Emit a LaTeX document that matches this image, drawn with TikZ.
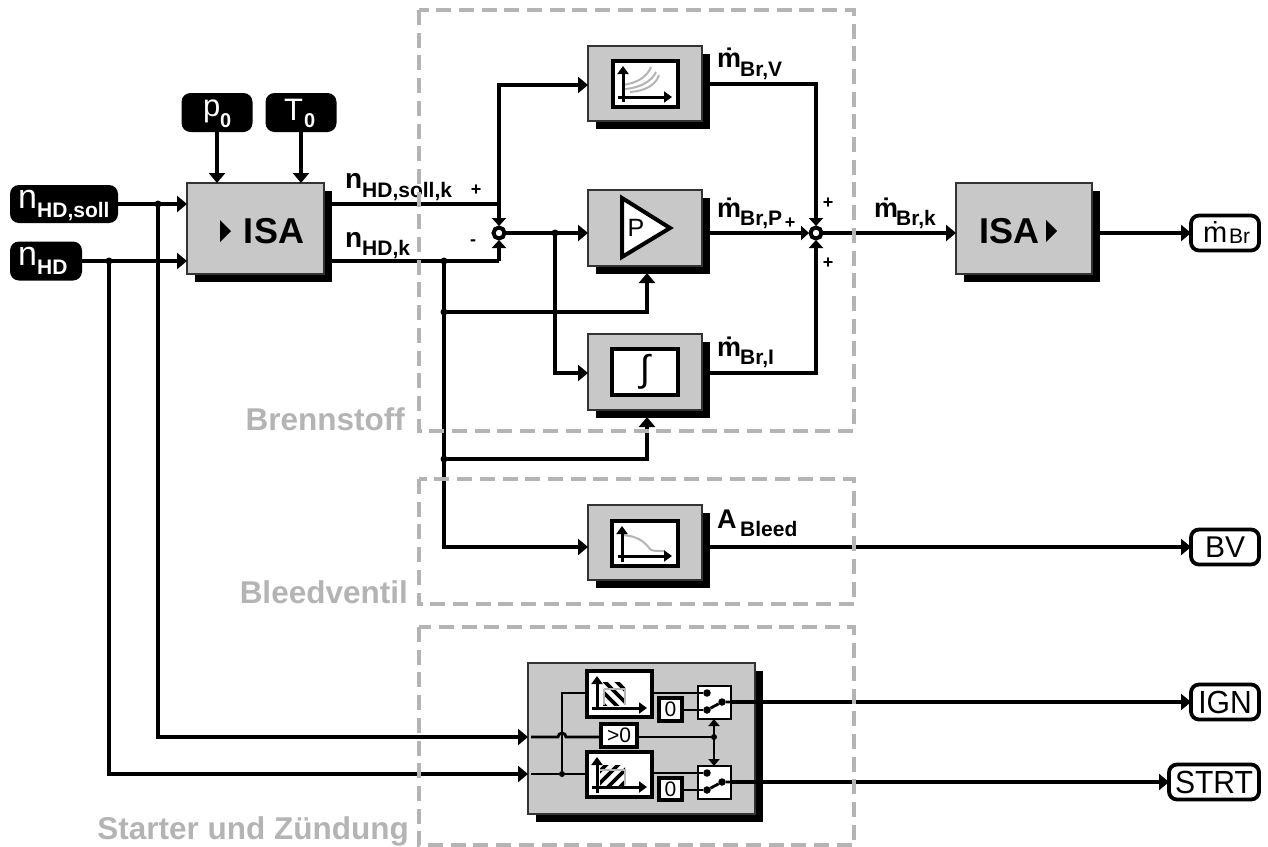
\documentclass[tikz,border=0pt]{standalone}
\usepackage{fontspec}
\setmainfont{Liberation Sans}
\usetikzlibrary{arrows.meta,calc}
\definecolor{blockgrey}{HTML}{C8C8C8}
\definecolor{dashgrey}{HTML}{B4B4B4}
\newcommand\fs[1]{\fontsize{#1}{#1}\selectfont}
\newcommand\blk[5]{%
  \pgfmathsetmacro\bw{#4-#2}\pgfmathsetmacro\bh{#5-#3}%
  \pgfmathsetmacro\bx{(#2+#4)/2}\pgfmathsetmacro\by{(#3+#5)/2}%
  \node[shadowbox,minimum width=\bw pt,minimum height=\bh pt] (#1s) at (\bx+8,\by+8) {};
  \node[greybox,minimum width=\bw pt,minimum height=\bh pt] (#1) at (\bx,\by) {};
}
\newcommand\rbox[6][inner]{%
  \pgfmathsetmacro\bw{#5-#3}\pgfmathsetmacro\bh{#6-#4}%
  \pgfmathsetmacro\bx{(#3+#5)/2}\pgfmathsetmacro\by{(#4+#6)/2}%
  \node[#1,minimum width=\bw pt,minimum height=\bh pt] (#2) at (\bx,\by) {};
}
\tikzset{
  x=1pt,y=-1pt,
  conn/.style={line width=4.4pt,-{Triangle[length=10pt,width=16pt]}},
  sconn/.style={line width=4.4pt,-{Triangle[length=8pt,width=14pt]}},
  plain/.style={line width=4.4pt},
  tconn/.style={line width=2.8pt},
  tarrow/.style={line width=3pt,-{Triangle[length=8pt,width=11pt]}},
  shadowbox/.style={rectangle,fill=black,draw=none,inner sep=0,outer sep=0},
  greybox/.style={rectangle,fill=blockgrey,draw=black!80,line width=1.5pt,inner sep=0,outer sep=0},
  inner/.style={rectangle,fill=white,draw=black,line width=4.5pt,inner sep=0,outer sep=0},
  tbox/.style={rectangle,fill=white,draw=black,line width=3.4pt,inner sep=0,outer sep=0},
  sw/.style={rectangle,fill=white,draw=black,line width=2.8pt,inner sep=0,outer sep=0},
  inlabel/.style={rectangle,rounded corners=9pt,fill=black,text=white,inner sep=0,outer sep=0},
  outlabel/.style={rectangle,rounded corners=8pt,fill=white,draw=black,line width=3.8pt,inner sep=0,outer sep=0},
  sumj/.style={circle,fill=white,draw=black,line width=4pt,minimum size=11pt,inner sep=0,outer sep=1.5pt},
  jdot/.style={circle,fill=black,minimum size=7pt,inner sep=0,outer sep=0},
  tdot/.style={circle,fill=black,minimum size=6pt,inner sep=0,outer sep=0},
  pole/.style={circle,fill=black,minimum size=7.5pt,inner sep=0,outer sep=0},
  region/.style={draw=dashgrey,line width=3.5pt,dash pattern=on 15pt off 7.7pt},
  regionlabel/.style={text=dashgrey,font=\fs{31.5}\bfseries,anchor=base east,inner sep=0},
  sign/.style={font=\fs{18}\bfseries,inner sep=0},
  txt/.style={anchor=base west,inner sep=0},
  curve/.style={draw=dashgrey,line width=2pt},
}
\begin{document}
\begin{tikzpicture}
\useasboundingbox (0,0) rectangle (1268,846);

% ---------- blocks
\blk{isa}{187}{183}{324}{274}
\blk{isb}{956}{183}{1092}{274}
\blk{va}{588}{46}{702}{121}
\blk{pr}{588}{190}{702}{266}
\blk{ig}{588}{334}{702}{410}
\blk{bl}{588}{505}{702}{580}
\blk{st}{528}{663}{755}{814}

% ---------- inputs
\node[inlabel,minimum width=108pt,minimum height=38pt] (soll) at (64,204) {};
\node[inlabel,minimum width=72pt,minimum height=39pt] (hd) at (46,261) {};
\node[inlabel,minimum width=71pt,minimum height=39pt] (p0) at (217,112.5) {};
\node[inlabel,minimum width=71pt,minimum height=39pt] (t0) at (301,112.5) {};
\node[txt,text=white] (soll-t) at (18,208) {\fs{34}n};
\node[txt,text=white] (soll-s) at (37,217) {\fs{21}\bfseries HD,soll};
\node[txt,text=white] (hd-t) at (18,265) {\fs{34}n};
\node[txt,text=white] (hd-s) at (37,274) {\fs{21}\bfseries HD};
\node[txt,text=white] (p0-t) at (203,116) {\fs{31}p};
\node[txt,text=white] (p0-s) at (220,127) {\fs{20}\bfseries 0};
\node[txt,text=white] (t0-t) at (284,120) {\fs{31}T};
\node[txt,text=white] (t0-s) at (304,127) {\fs{20}\bfseries 0};

% ---------- outputs
\node[outlabel,minimum width=68pt,minimum height=35pt] (omb) at (1225,233) {};
\node[outlabel,minimum width=68pt,minimum height=35pt] (obv) at (1225,547) {};
\node[outlabel,minimum width=68pt,minimum height=35pt] (oig) at (1225,702) {};
\node[outlabel,minimum width=90pt,minimum height=35pt] (ost) at (1214,782) {};
\node[txt] (omb-t) at (1203,242) {\fs{29}ṁ};
\node[txt] (omb-s) at (1229,243) {\fs{21}Br};
\node[inner sep=0] (obv-t) at (1225,547) {\fs{30}BV};
\node[inner sep=0] (oig-t) at (1225,702) {\scalebox{.94}[1]{\fs{32}IGN}};
\node[inner sep=0] (ost-t) at (1214,782) {\scalebox{.94}[1]{\fs{32}STRT}};

% ---------- sum points and routing points
\node[sumj] (suma) at (499,233) {};
\node[sumj] (sumb) at (816,233) {};
\coordinate (jsoll) at (158,204);
\coordinate (jhd) at (109,261);
\coordinate (ja) at (499,204);
\coordinate (jb) at (499,261);
\coordinate (jk) at (444,261);
\coordinate (jc) at (555,233);
\coordinate (jp) at (444,312);
\coordinate (ji) at (444,459);
\coordinate (vt) at (499,85);
\coordinate (oa) at (816,84);
\coordinate (ob) at (816,373);
\coordinate (ystv) at (0,737);
\coordinate (ystw) at (0,774);
\coordinate (prin) at (647,273);
\coordinate (igin) at (647,417);

% ---------- connectors: inputs
\draw[conn] (soll.east) -- (isa.west |- soll);
\draw[conn] (hd.east) -- (isa.west |- hd);
\draw[conn] (p0.south) -- (isa.north -| p0);
\draw[conn] (t0.south) -- (isa.north -| t0);
\draw[conn] (jsoll) |- (st.west |- ystv);
\draw[conn] (jhd) |- (st.west |- ystw);

% ---------- connectors: comparison
\draw[plain] (isas.east |- ja) -- (ja);
\draw[plain] (isas.east |- jb) -- (jb);
\draw[sconn] (ja) -- (suma.north);
\draw[sconn] (jb) -- (suma.south);
\draw[conn] (ja) |- (va.west |- vt);
\draw[conn] (suma.east) -- (pr.west |- suma);
\draw[conn] (jc) |- (ig.west |- ob);
\draw[conn] (jk) |- (bl.west |- obv);
\draw[conn] (jp) -| (prin);
\draw[conn] (ji) -| (igin);

% ---------- connectors: outputs
\draw[sconn] (vas.east |- oa) -- (oa) -- (sumb.north);
\draw[sconn] (igs.east |- ob) -- (ob) -- (sumb.south);
\draw[sconn] (prs.east |- sumb) -- (sumb.west);
\draw[conn] (sumb.east) -- (isb.west |- sumb);
\draw[conn] (isbs.east |- omb) -- (omb.west);
\draw[conn] (bls.east |- obv) -- (obv.west);
\draw[conn] (sts.east |- oig) -- (oig.west);
\draw[conn] (sts.east |- ost) -- (ost.west);

% ---------- junction dots
\foreach \j in {jsoll,jhd,jk,jc,jp,ji}{\node[jdot] at (\j) {};}

% ---------- ISA blocks
\draw[fill=black,draw=none] (220,220) -- (231,231) -- (220,242) -- cycle;
\node[inner sep=0] (isa-t) at (274,231) {\fs{36}\bfseries ISA};
\node[inner sep=0] (isb-t) at (1009,231) {\fs{36}\bfseries ISA};
\draw[fill=black,draw=none] (1046,220) -- (1057,231) -- (1046,242) -- cycle;

% ---------- V block
\rbox{vi}{613}{61}{678}{107}
\draw[curve] (623,85) .. controls (637,83) and (647,77) .. (651,67);
\draw[curve] (625,89) .. controls (640,88) and (652,81) .. (656,72);
\draw[curve] (630,92) .. controls (645,91) and (656,85) .. (659,75);
\draw[tarrow] (623,102) -- (623,66);
\draw[tarrow] (618,97) -- (672,97);

% ---------- P block
\draw[fill=white,draw=black,line width=4pt,miter limit=10] (622,198) -- (670,228) -- (622,257) -- cycle;
\node[inner sep=0] (pr-t) at (636,228) {\fs{25}P};

% ---------- I block
\rbox{ii}{612}{349}{678}{395}
\node[inner sep=0] (ii-t) at (645,372) {\fs{37}∫};

% ---------- Bleed block
\rbox{bi}{612}{521}{678}{566}
\draw[curve] (622,535) .. controls (637,536) and (644,541) .. (650,549) .. controls (652,551) and (655,551) .. (665,551);
\draw[tarrow] (622,562) -- (622,526);
\draw[tarrow] (618,556) -- (672,556);

% ---------- Start block internals
\rbox{sa}{587}{671}{652}{717}
\rbox{sb}{587}{752}{652}{797}
\begin{scope}
  \clip (603,682) rectangle (625,705);
  \fill[white] (603,682) rectangle (625,705);
  \foreach \d in {-24,-12,0,12,24}{\draw[black,line width=3.6pt] ($(603,682)+(\d-4,-6)$) -- ($(603,682)+(\d+32,30)$);}
\end{scope}
\draw[dashgrey,line width=1.6pt] (604,689) -- (604,705) (604,689) -- (625,689) -- (625,705);
\begin{scope}
  \clip (600,765) rectangle (625,785);
  \foreach \d in {-16,-4,8,20,32}{\draw[black,line width=3.6pt] ($(600,785)+(\d-4,6)$) -- ($(600,785)+(\d+30,-28)$);}
\end{scope}
\draw[dashgrey,line width=1.6pt] (600,770) -- (625,770) -- (625,785);
\draw[tarrow] (597,708) -- (597,676);
\draw[tarrow] (592,708) -- (647,708);
\draw[tarrow] (597,793) -- (597,757);
\draw[tarrow] (592,787) -- (647,787);

\rbox[tbox]{za}{659}{698}{682}{721}
\rbox[tbox]{zb}{659}{778}{682}{800}
\rbox[tbox]{gt}{601}{724}{637}{747}
\rbox[sw]{swa}{698}{686}{731}{719}
\rbox[sw]{swb}{698}{766}{731}{799}
\node[inner sep=0] (za-t) at (670.5,709.5) {\fs{21}0};
\node[inner sep=0] (zb-t) at (670.5,789) {\fs{21}0};
\node[inner sep=0] (gt-t) at (619,735.5) {\fs{21}>0};

\coordinate (is) at (531,737);
\coordinate (iw) at (531,774);
\node[tdot] (dw) at (562,774) {};
\node[tdot] (dg) at (714,737) {};
\node[pole] (a1) at (707,693) {};
\node[pole] (a2) at (707,710) {};
\node[pole] (a3) at (722,702) {};
\node[pole] (b1) at (707,773) {};
\node[pole] (b2) at (707,790) {};
\node[pole] (b3) at (722,782) {};
\draw[tconn] (iw) -- (dw) -- (sb.west |- dw);
\draw[tconn] (is) -- (558,737) arc[start angle=180,end angle=0,radius=4pt] -- (gt.west |- dg);
\draw[tconn] (dw) -- (562,693) -- (sa.west |- a1);
\draw[tconn] (gt.east |- dg) -- (dg);
\draw[tconn] (sa.east |- a1) -- (a1);
\draw[tconn] (za.east |- a2) -- (a2);
\draw[tconn] (a2) -- (a3) -- (swa.east |- a3);
\draw[tconn] (sb.east |- b1) -- (b1);
\draw[tconn] (zb.east |- b2) -- (b2);
\draw[tconn] (b2) -- (b3) -- (swb.east |- b3);
\draw[line width=2.8pt,{Triangle[length=7pt,width=11pt]}-{Triangle[length=7pt,width=11pt]}] (swa.south -| dg) -- (swb.north -| dg);
\draw[plain] (swa.east |- a3) -- (sts.east |- a3);
\draw[plain] (swb.east |- b3) -- (sts.east |- b3);

% ---------- signal labels
\node[txt] (l1) at (345,188) {\fs{28}\bfseries n};
\node[txt] (l1s) at (362,197) {\fs{21}\bfseries HD,soll,k};
\node[txt] (l2) at (345,247) {\fs{28}\bfseries n};
\node[txt] (l2s) at (362,255) {\fs{21}\bfseries HD,k};
\node[sign] (s1) at (476,190) {+};
\node[sign] (s2) at (473,243) {-};
\node[sign] (s3) at (790,223) {+};
\node[sign] (s4) at (828,203) {+};
\node[sign] (s5) at (828,263) {+};
\node[txt] (m1) at (717,67) {\fs{27}\bfseries ṁ};
\node[txt] (m1s) at (740,76) {\fs{21}\bfseries Br,V};
\node[txt] (m2) at (717,217) {\fs{27}\bfseries ṁ};
\node[txt] (m2s) at (740,225) {\fs{21}\bfseries Br,P};
\node[txt] (m3) at (717,356) {\fs{27}\bfseries ṁ};
\node[txt] (m3s) at (740,364) {\fs{21}\bfseries Br,I};
\node[txt] (m4) at (874,217) {\fs{27}\bfseries ṁ};
\node[txt] (m4s) at (896,225) {\fs{21}\bfseries Br,k};
\node[txt] (m5) at (717,528) {\fs{27}\bfseries A};
\node[txt] (m5s) at (740,536) {\fs{21}\bfseries Bleed};

% ---------- regions
\draw[region] (419,10) rectangle (854,431);
\draw[region] (419,479) rectangle (854,604);
\draw[region] (419,627) rectangle (854,845);
\node[regionlabel] (r1) at (405,430) {Brennstoff};
\node[regionlabel] (r2) at (408,603) {Bleedventil};
\node[regionlabel] (r3) at (409,839) {Starter und Zündung};
\end{tikzpicture}
\end{document}
